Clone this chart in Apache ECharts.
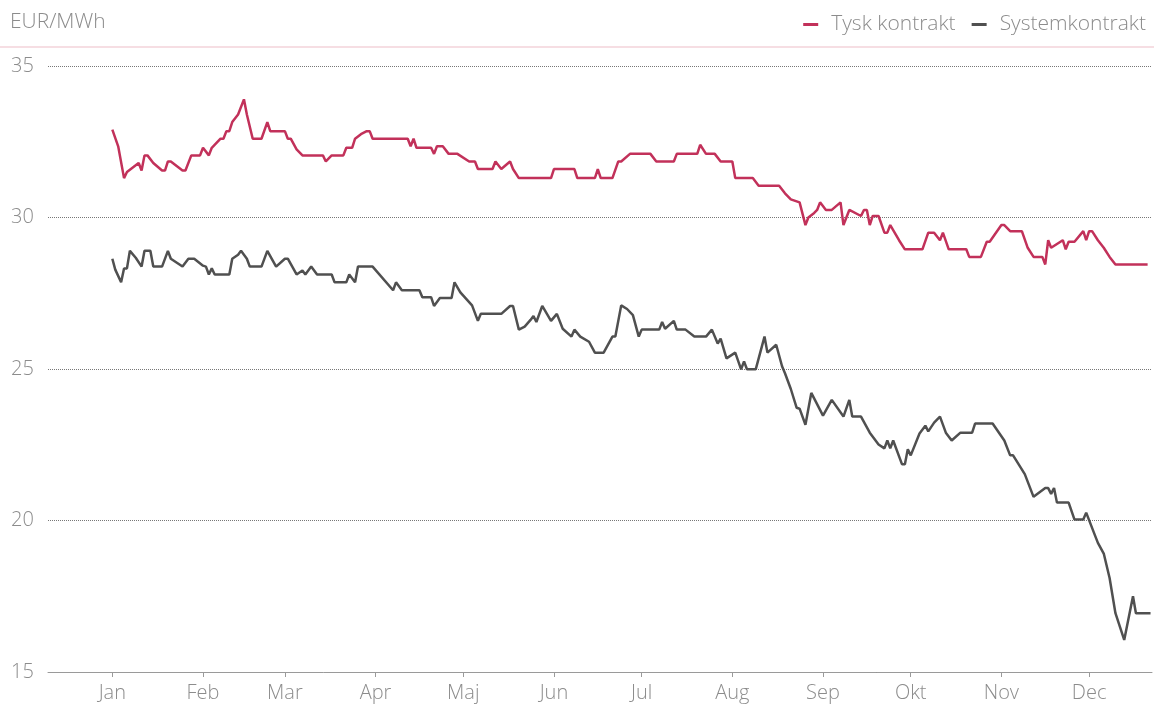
<!DOCTYPE html>
<html><head><meta charset="utf-8">
<script src="https://cdn.jsdelivr.net/npm/echarts@6/dist/echarts.min.js"></script>
<style>html,body{margin:0;padding:0;background:#fff}#c{width:1154px;height:705px}</style>
</head><body><div id="c"></div><script>
// x values are day of year (0 = 1 Jan)
const monthLabels = ['Jan','Feb','Mar','Apr','Maj','Jun','Jul','Aug','Sep','Okt','Nov','Dec'];
const monthStartDays = [0,31,59,90,120,151,181,212,243,273,304,334];
const yTicks = [15,20,25,30,35];

const tyskDays = [0,2,4,5,9,10,11,12,14,17,18,19,20,24,25,27,30,31,33,34,37,38,39,40,41,43,45,46,48,51,53,54,59,60,61,63,65,72,73,75,79,80,82,83,85,87,88,89,101,102,103,104,109,110,111,113,115,118,122,124,125,130,131,133,136,137,139,150,151,158,159,165,166,167,171,173,174,177,184,186,192,193,200,201,203,206,208,212,213,219,221,228,230,232,235,237,238,240,241,242,244,246,249,250,252,256,257,258,259,260,262,264,265,266,269,271,277,279,281,283,284,286,292,293,297,299,300,304,305,307,311,313,315,318,319,320,321,325,326,327,329,332,333,334,335,337,339,341,343,354];
const tyskValues = [32.9,32.35,31.3,31.5,31.8,31.55,32.05,32.05,31.8,31.55,31.55,31.85,31.85,31.55,31.55,32.05,32.05,32.3,32.05,32.3,32.6,32.6,32.85,32.85,33.15,33.4,33.9,33.4,32.6,32.6,33.15,32.85,32.85,32.6,32.6,32.25,32.05,32.05,31.85,32.05,32.05,32.3,32.3,32.6,32.75,32.85,32.85,32.6,32.6,32.35,32.6,32.3,32.3,32.1,32.35,32.35,32.1,32.1,31.85,31.85,31.6,31.6,31.85,31.6,31.85,31.6,31.3,31.3,31.6,31.6,31.3,31.3,31.6,31.3,31.3,31.85,31.85,32.1,32.1,31.85,31.85,32.1,32.1,32.4,32.1,32.1,31.85,31.85,31.3,31.3,31.05,31.05,30.8,30.6,30.5,29.75,30.0,30.15,30.25,30.5,30.25,30.25,30.5,29.75,30.25,30.05,30.25,30.25,29.75,30.05,30.05,29.5,29.5,29.75,29.25,28.95,28.95,29.5,29.5,29.25,29.5,28.95,28.95,28.7,28.7,29.2,29.2,29.75,29.75,29.55,29.55,29.0,28.7,28.7,28.45,29.25,29.0,29.25,28.95,29.2,29.2,29.55,29.25,29.55,29.55,29.25,29.0,28.7,28.45,28.45];

const systemDays = [0,1,3,4,5,6,8,10,11,13,14,17,19,20,24,26,28,31,32,33,34,35,40,41,43,44,46,47,51,53,56,59,60,63,65,66,68,70,75,76,80,81,83,84,89,96,97,99,105,106,109,110,112,116,117,119,123,125,126,133,136,137,139,141,143,144,145,147,150,152,154,157,158,160,163,165,168,171,172,174,176,178,180,181,187,188,189,192,193,196,199,203,205,207,208,210,213,215,216,217,220,223,224,227,229,230,232,234,235,237,239,243,246,250,252,253,256,259,262,264,265,266,267,270,271,272,273,276,278,279,281,283,285,287,290,294,295,301,305,307,308,312,315,319,320,321,322,323,327,329,332,333,336,337,339,341,343,346,349,350,355];
const systemValues = [28.64,28.28,27.86,28.32,28.32,28.9,28.67,28.38,28.9,28.9,28.38,28.38,28.9,28.64,28.38,28.64,28.64,28.41,28.38,28.12,28.32,28.12,28.12,28.64,28.77,28.9,28.64,28.38,28.38,28.9,28.38,28.64,28.64,28.12,28.25,28.12,28.38,28.12,28.12,27.86,27.86,28.12,27.86,28.38,28.38,27.6,27.86,27.6,27.6,27.37,27.37,27.08,27.34,27.34,27.86,27.53,27.1,26.59,26.82,26.82,27.08,27.08,26.3,26.4,26.62,26.75,26.55,27.08,26.59,26.82,26.33,26.07,26.3,26.07,25.9,25.54,25.54,26.07,26.07,27.1,26.98,26.78,26.07,26.3,26.3,26.55,26.33,26.59,26.3,26.3,26.07,26.07,26.3,25.84,26.0,25.35,25.54,24.99,25.25,24.99,24.99,26.07,25.54,25.8,25.09,24.86,24.34,23.72,23.69,23.16,24.21,23.46,23.98,23.43,23.98,23.43,23.43,22.9,22.51,22.38,22.64,22.38,22.64,21.86,21.86,22.35,22.15,22.87,23.13,22.94,23.23,23.43,22.9,22.64,22.9,22.9,23.2,23.2,22.64,22.15,22.15,21.53,20.78,21.07,21.07,20.88,21.07,20.59,20.59,20.03,20.03,20.26,19.51,19.26,18.91,18.1,16.94,16.06,17.5,16.94,16.94];

const toPairs = (xs, ys) => xs.map((x, i) => [x, ys[i]]);
const RED = '#c2315a', GREY = '#505050', TXT = '#8c8c8c';
const FONT = '"Open Sans", Lato, sans-serif';
const FS = 20;

const chart = echarts.init(document.getElementById('c'), null, {renderer: 'canvas'});
chart.setOption({
  animation: false,
  textStyle: {fontFamily: FONT, fontWeight: 300},
  grid: {left: 48, right: 2, top: 66, bottom: 33, containLabel: false},
  legend: {
    right: 3, top: 9, icon: 'rect', itemWidth: 15, itemHeight: 3, itemGap: 16,
    textStyle: {fontSize: 21, color: TXT, fontFamily: FONT, fontWeight: 300, padding: [0, 0, 0, 8]},
    data: ['Tysk kontrakt', 'Systemkontrakt']
  },
  graphic: [
    {type: 'text', left: 10, top: 12, style: {text: 'EUR/MWh', fontSize: 21, fill: TXT, fontFamily: FONT, fontWeight: 300}},
    {type: 'line', shape: {x1: 0, y1: 47, x2: 1154, y2: 47}, style: {stroke: '#f3d3da', lineWidth: 1.5}}
  ],
  xAxis: {
    type: 'value', min: -22, max: 355.5,
    axisLine: {lineStyle: {color: '#9a9a9a'}},
    axisTick: {customValues: monthStartDays, length: 5, lineStyle: {color: '#9a9a9a'}},
    axisLabel: {customValues: monthStartDays, formatter: v => monthLabels[monthStartDays.indexOf(v)], fontSize: FS, color: TXT, fontWeight: 300, margin: 11},
    splitLine: {show: false}
  },
  yAxis: {
    type: 'value', min: yTicks[0], max: yTicks[yTicks.length - 1], interval: 5,
    axisLine: {show: false}, axisTick: {show: false},
    axisLabel: {fontSize: FS, color: TXT, fontWeight: 300, align: 'left', margin: 37},
    splitLine: {lineStyle: {type: 'dotted', color: '#777', width: 1}}
  },
  series: [
    {name: 'Tysk kontrakt', type: 'line', data: toPairs(tyskDays, tyskValues), showSymbol: false,
     lineStyle: {width: 2.5, color: RED}, itemStyle: {color: RED}},
    {name: 'Systemkontrakt', type: 'line', data: toPairs(systemDays, systemValues), showSymbol: false,
     lineStyle: {width: 2.5, color: GREY}, itemStyle: {color: GREY}}
  ]
});
</script></body></html>
